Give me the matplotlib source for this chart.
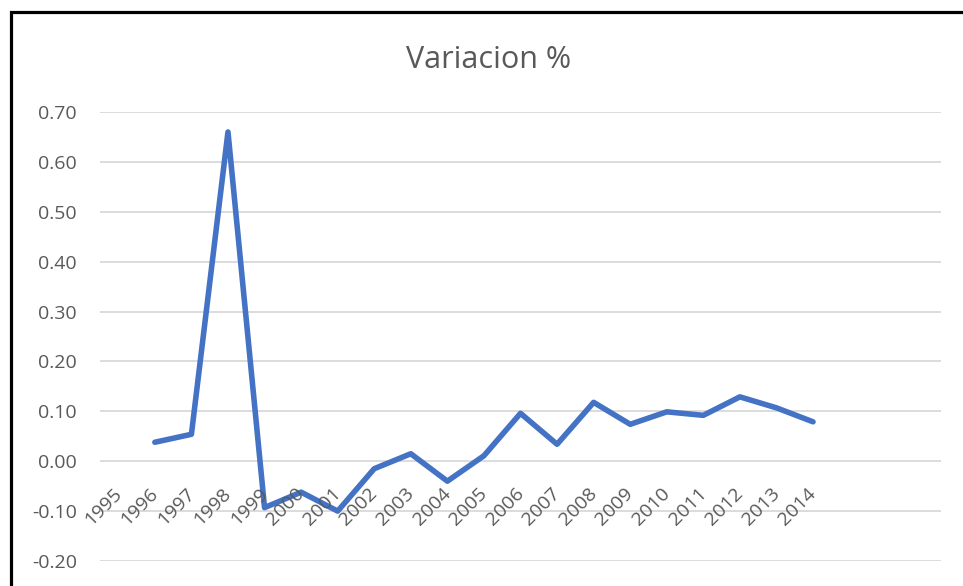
import matplotlib.pyplot as plt
import matplotlib.transforms as mtransforms
from matplotlib.patches import Rectangle

years = [str(y) for y in range(1995, 2015)]
# 1995 has no value (first year of the series)
variacion = [None, 0.038, 0.054, 0.66, -0.093, -0.062, -0.100, -0.015, 0.015, -0.040,
             0.011, 0.096, 0.034, 0.118, 0.074, 0.099, 0.092, 0.129, 0.107, 0.079]
yticks = [-0.20, -0.10, 0.00, 0.10, 0.20, 0.30, 0.40, 0.50, 0.60, 0.70]

plt.rcParams['font.family'] = ['Open Sans', 'DejaVu Sans']
grey = '#595959'

fig = plt.figure(figsize=(9.63, 5.86), dpi=100)
fig.patch.set_facecolor('white')

# black frame of the chart area (cut at right and bottom)
fig.patches.append(Rectangle((10.5 / 963, -0.1), 1.2, 1 - 11.5 / 586 + 0.1,
                             transform=fig.transFigure, fill=False,
                             edgecolor='black', linewidth=2.3, zorder=0))

ax = fig.add_axes([100 / 963, 1 - 561 / 586, 841 / 963, 449 / 586])
ax.set_facecolor('none')

xs = [i for i, v in enumerate(variacion) if v is not None]
ys = [v for v in variacion if v is not None]
ax.plot(xs, ys, color='#4472C4', linewidth=4.0, solid_joinstyle='round',
        solid_capstyle='round', zorder=3)

ax.set_ylim(-0.20, 0.70)
ax.set_xlim(-0.5, 22.5)
ax.set_yticks(yticks)
ax.set_yticklabels([f'{t:.2f}' for t in yticks], color=grey, fontsize=14)
ax.tick_params(axis='y', length=0, pad=16.5)
ax.set_xticks([])
ax.grid(axis='y', color='#d9d9d9', linewidth=1.3)
ax.set_axisbelow(True)
for s in ax.spines.values():
    s.set_visible(False)

# category labels sit on the zero line, rotated 45 degrees
off = mtransforms.offset_copy(ax.transData, fig=fig, x=-6, y=-23, units='dots')
for i, lab in enumerate(years):
    ax.text(i, 0, lab, transform=off, rotation=45, rotation_mode='anchor',
            ha='right', va='top', fontsize=14, color=grey, clip_on=False)

fig.text(489 / 963, 1 - 68 / 586, 'Variacion %', ha='center', va='baseline',
         fontsize=22, color=grey)

fig.savefig('out.png', dpi=100)
